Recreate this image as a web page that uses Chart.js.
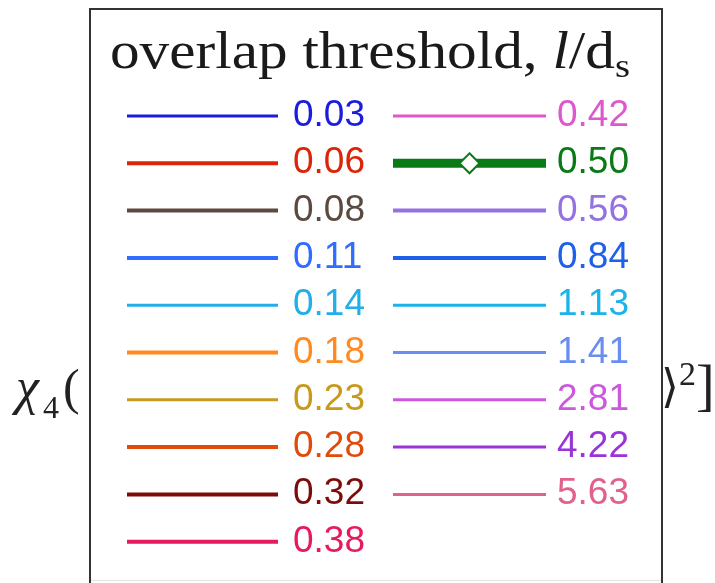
<!DOCTYPE html>
<html><head><meta charset="utf-8">
<script src="https://cdn.jsdelivr.net/npm/chart.js@4"></script>
<style>html,body{margin:0;padding:0;background:#fff;overflow:hidden}canvas{display:block}</style>
</head><body>
<canvas id="c" width="715" height="583"></canvas>
<script>
// Legend entries: overlap threshold l/d_s
const thresholdLabels = ['0.03','0.06','0.08','0.11','0.14','0.18','0.23','0.28','0.32','0.38',
                         '0.42','0.50','0.56','0.84','1.13','1.41','2.81','4.22','5.63'];
const seriesColors = ['#1c1cdc','#dc2508','#5c4a40','#2f6cff','#22aee8','#ff8a22','#c79a1c','#e04b0c','#7c0c0c','#e61a5c',
                      '#dd58cc','#0a7a16','#9472e2','#1e60ea','#1cb2ea','#6a8df2','#cc58de','#9a34d8','#e0628c'];
const seriesWidths = [3,4,4,4,3,4,3,4,4,4, 3,9,4,4,3,3,3,3,3];
const highlighted = '0.50';
const titleText = 'overlap threshold, ';

const legendPlugin = {
  id: 'boxLegend',
  afterDraw(chart) {
    const ctx = chart.ctx;
    ctx.save();
    ctx.fillStyle = '#222';
    ctx.textBaseline = 'alphabetic';
    // partially hidden axis label behind the legend
    ctx.font = 'italic 52px "Liberation Serif"';
    ctx.fillText('\u03c7', 16, 404);
    ctx.font = '32px "Liberation Serif"';
    ctx.fillText('4', 43, 418);
    ctx.font = '50px "Liberation Serif"';
    ctx.fillText('(', 63, 404);
    ctx.font = '46px "Liberation Serif"';
    ctx.fillText('\u27e9', 661, 402);
    ctx.font = '34px "Liberation Serif"';
    ctx.fillText('2', 679, 385);
    ctx.font = '56px "Liberation Serif"';
    ctx.fillText(']', 696, 404);

    // legend box
    ctx.fillStyle = '#fff';
    ctx.fillRect(90, 9, 572, 580);
    ctx.strokeStyle = '#e8e8e8'; ctx.lineWidth = 1;
    ctx.beginPath(); ctx.moveTo(91, 580.5); ctx.lineTo(661, 580.5); ctx.stroke();
    ctx.strokeStyle = '#333'; ctx.lineWidth = 2;
    ctx.beginPath();
    ctx.moveTo(90, 583); ctx.lineTo(90, 9); ctx.lineTo(662, 9); ctx.lineTo(662, 583);
    ctx.stroke();

    // title
    const f1 = '52px "Liberation Serif"', f2 = 'italic 52px "Liberation Serif"', f3 = '34px "Liberation Serif"';
    const parts = [[titleText, f1, 0], ['l', f2, 0], ['/d', f1, 0], ['s', f3, 9]];
    let total = 0;
    parts.forEach(p => { ctx.font = p[1]; total += ctx.measureText(p[0]).width; });
    const sx = 520 / total;
    ctx.save();
    ctx.translate(110, 68);
    ctx.scale(sx, 1);
    ctx.fillStyle = '#1a1a1a';
    let x = 0;
    parts.forEach(p => { ctx.font = p[1]; ctx.fillText(p[0], x, p[2]); x += ctx.measureText(p[0]).width; });
    ctx.restore();

    // entries
    chart.data.datasets.forEach((ds, i) => {
      const col = i < 10 ? 0 : 1, row = i < 10 ? i : i - 10;
      const y = 116 + row * 47.3;
      const x0 = col ? 393 : 127, x1 = col ? 546 : 278, tx = col ? 557 : 293;
      ctx.strokeStyle = ds.borderColor; ctx.lineWidth = ds.borderWidth; ctx.lineCap = 'butt';
      ctx.beginPath(); ctx.moveTo(x0, y); ctx.lineTo(x1, y); ctx.stroke();
      if (ds.label === highlighted) {
        const cx = (x0 + x1) / 2, r = 10;
        ctx.beginPath();
        ctx.moveTo(cx, y - r); ctx.lineTo(cx + r, y); ctx.lineTo(cx, y + r); ctx.lineTo(cx - r, y); ctx.closePath();
        ctx.fillStyle = '#fff'; ctx.fill();
        ctx.lineWidth = 2; ctx.stroke();
      }
      ctx.fillStyle = ds.borderColor;
      ctx.font = '37px "Liberation Sans"';
      ctx.fillText(ds.label, tx, y + 10);
    });
    ctx.restore();
  }
};

new Chart(document.getElementById('c'), {
  type: 'line',
  data: {
    labels: [],
    // the curves themselves are fully covered by the legend in this view
    datasets: thresholdLabels.map((lab, i) => ({
      label: lab,
      data: [],
      borderColor: seriesColors[i],
      backgroundColor: seriesColors[i],
      borderWidth: seriesWidths[i],
      pointStyle: lab === highlighted ? 'rectRot' : false
    }))
  },
  options: {
    responsive: false,
    animation: false,
    devicePixelRatio: 1,
    plugins: { legend: { display: false }, tooltip: { enabled: false } },
    scales: { x: { display: false }, y: { display: false } }
  },
  plugins: [legendPlugin]
});
</script>
</body></html>
